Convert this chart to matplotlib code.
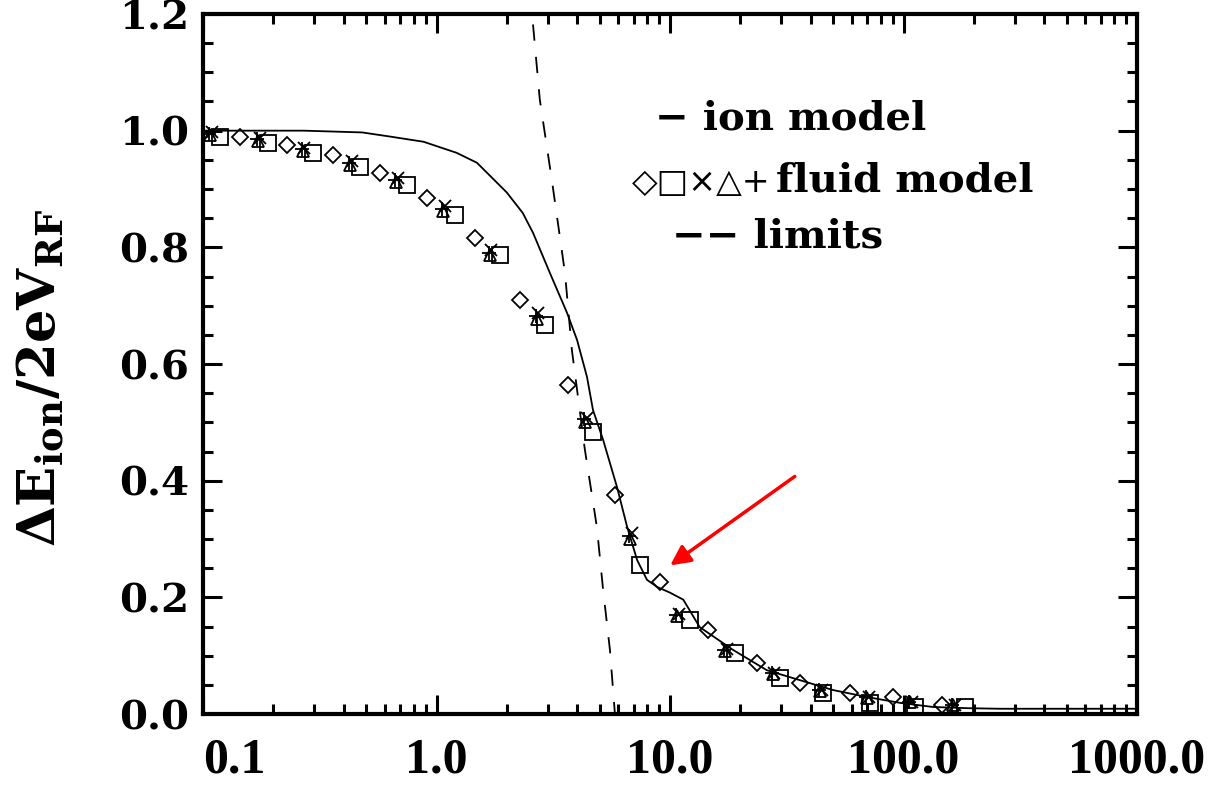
import numpy as np
import matplotlib
matplotlib.use('Agg')
import matplotlib.pyplot as plt

# ---- data
# ion model (solid)
ion_x = [0.1, 0.27, 0.48, 0.63, 0.88, 1.22, 1.49, 2.0, 2.34, 2.59, 3.06, 3.62, 4.0,
         4.41, 4.68, 5.17, 5.93, 6.55, 7.23, 7.97, 8.79, 10.0, 11.4, 13.4, 18.6,
         26.0, 36.0, 50.0, 70.0, 97.0, 134.0, 187.0, 259.0, 1000.0]
ion_y = [1.0, 1.0, 0.997, 0.99, 0.981, 0.962, 0.945, 0.894, 0.859, 0.825, 0.756, 0.688,
         0.641, 0.578, 0.521, 0.47, 0.389, 0.321, 0.264, 0.23, 0.218, 0.208, 0.196,
         0.149, 0.11, 0.075, 0.058, 0.041, 0.029, 0.019, 0.012, 0.01, 0.009, 0.009]

# limits (dashed)
lim_x = [2.59, 2.77, 3.13, 3.55, 3.8, 4.32, 4.86, 5.17, 5.53, 5.81]
lim_y = [1.182, 1.053, 0.911, 0.756, 0.624, 0.453, 0.321, 0.213, 0.11, 0.0]

# fluid model runs
dia_x = [0.144, 0.229, 0.36, 0.573, 0.91, 1.46, 2.28, 3.66, 5.81, 9.06, 14.5, 23.6,
         36.0, 59.0, 90.0, 146.0]
dia_y = [0.99, 0.976, 0.959, 0.928, 0.885, 0.816, 0.71, 0.564, 0.376, 0.226, 0.144,
         0.087, 0.053, 0.036, 0.029, 0.015]

sq_x = [0.118, 0.19, 0.295, 0.47, 0.75, 1.2, 1.87, 2.92, 4.68, 7.44, 12.2, 19.0,
        29.6, 45.2, 72.0, 112.0, 183.0]
sq_y = [0.99, 0.979, 0.962, 0.938, 0.907, 0.856, 0.787, 0.667, 0.484, 0.256, 0.161,
        0.105, 0.062, 0.036, 0.019, 0.012, 0.012]

tri_x = [0.107, 0.172, 0.268, 0.426, 0.671, 1.07, 1.69, 2.69, 4.32, 6.74, 10.7, 17.2,
         27.6, 43.9, 69.8, 107.0, 163.0]
tri_y = [0.992, 0.982, 0.965, 0.942, 0.912, 0.862, 0.786, 0.677, 0.5, 0.3, 0.168,
         0.108, 0.068, 0.04, 0.028, 0.02, 0.015]

crs_x = [0.109, 0.175, 0.272, 0.433, 0.682, 1.09, 1.72, 2.73, 4.39, 6.85, 10.9, 17.5,
         28.0, 44.6, 70.9, 109.0, 166.0]
crs_y = [0.997, 0.987, 0.97, 0.948, 0.918, 0.87, 0.795, 0.688, 0.508, 0.31, 0.172,
         0.112, 0.071, 0.042, 0.03, 0.021, 0.015]

pls_x = [0.106, 0.17, 0.265, 0.421, 0.663, 1.06, 1.67, 2.66, 4.27, 6.66, 10.6, 17.0,
         27.3, 43.4, 69.0, 106.0, 161.0]
pls_y = [0.995, 0.985, 0.968, 0.945, 0.915, 0.866, 0.79, 0.682, 0.505, 0.305, 0.17,
         0.11, 0.07, 0.041, 0.029, 0.02, 0.015]

arrow_tip = (9.8, 0.252)
arrow_tail = (35.0, 0.41)

xticks = [0.1, 1.0, 10.0, 100.0, 1000.0]
xlabels = ['0.1', '1.0', '10.0', '100.0', '1000.0']
yticks = [0.0, 0.2, 0.4, 0.6, 0.8, 1.0, 1.2]

plt.rcParams['mathtext.fontset'] = 'custom'
plt.rcParams['mathtext.rm'] = 'DejaVu Serif:bold'
plt.rcParams['mathtext.it'] = 'DejaVu Serif:bold'

fig = plt.figure(figsize=(12.24, 7.89), dpi=100)
ax = fig.add_axes([203/1224, 1-714/789, 934/1224, 700/789])

ax.plot(ion_x, ion_y, 'k-', lw=1.3)
ax.plot(lim_x, lim_y, 'k', lw=1.3, dashes=(9, 9))

mk = dict(ls='none', color='k', mfc='none', mew=1.3)
ax.plot(dia_x, dia_y, marker='D', ms=8.5, **mk)
ax.plot(sq_x, sq_y, marker='s', ms=11, **mk)
ax.plot(tri_x, tri_y, marker='^', ms=9, **mk)
ax.plot(crs_x, crs_y, marker='x', ms=9, **mk)
ax.plot(pls_x, pls_y, marker='+', ms=10, **mk)

ax.annotate('', xy=arrow_tip, xytext=arrow_tail,
            arrowprops=dict(arrowstyle='-|>', color='red', lw=2.5, mutation_scale=30))

ax.set_xscale('log')
ax.set_xlim(0.1, 1000)
ax.set_ylim(0, 1.2)
ax.set_xticks(xticks)
ax.set_xticklabels(xlabels, fontfamily='Liberation Serif', fontweight='bold', fontsize=36)
ax.xaxis.set_minor_locator(matplotlib.ticker.LogLocator(base=10, subs=np.arange(2, 10)))
ax.xaxis.set_minor_formatter(matplotlib.ticker.NullFormatter())
ax.set_yticks(yticks)
ax.set_yticklabels(['%.1f' % v for v in yticks], fontfamily='DejaVu Serif',
                   fontweight='bold', fontsize=29)
ax.yaxis.set_minor_locator(matplotlib.ticker.MultipleLocator(0.05))
xl = ax.get_xticklabels()
xl[0].set_horizontalalignment('left')

ax.tick_params(which='both', direction='in', top=True, right=True, width=2.2)
ax.tick_params(which='major', length=14)
ax.tick_params(which='minor', length=7)
ax.tick_params(axis='x', which='major', pad=17)
ax.tick_params(axis='y', which='major', pad=10)
for s in ax.spines.values():
    s.set_linewidth(3)

fig.text(40/1224, 1-378/789, r'$\Delta\mathrm{E}_{\mathrm{ion}}/2\mathrm{eV}_{\mathrm{RF}}$',
         rotation=90, ha='center', va='center', fontsize=38)

lf = dict(fontsize=29, fontweight='bold', va='center', ha='left', family='DejaVu Serif')
fig.text(655/1224, 1-118/789, '\u2212 ion model', **lf)
fig.text(632/1224, 1-182/789, '\u25c7\u25a1\u00d7\u25b3+', fontsize=24,
         va='center', ha='left', family=['DejaVu Sans'])
fig.text(776/1224, 1-180/789, 'fluid model', **lf)
fig.text(672/1224, 1-237/789, '\u2212\u2212 limits', **lf)

fig.savefig('out.png', dpi=100)
